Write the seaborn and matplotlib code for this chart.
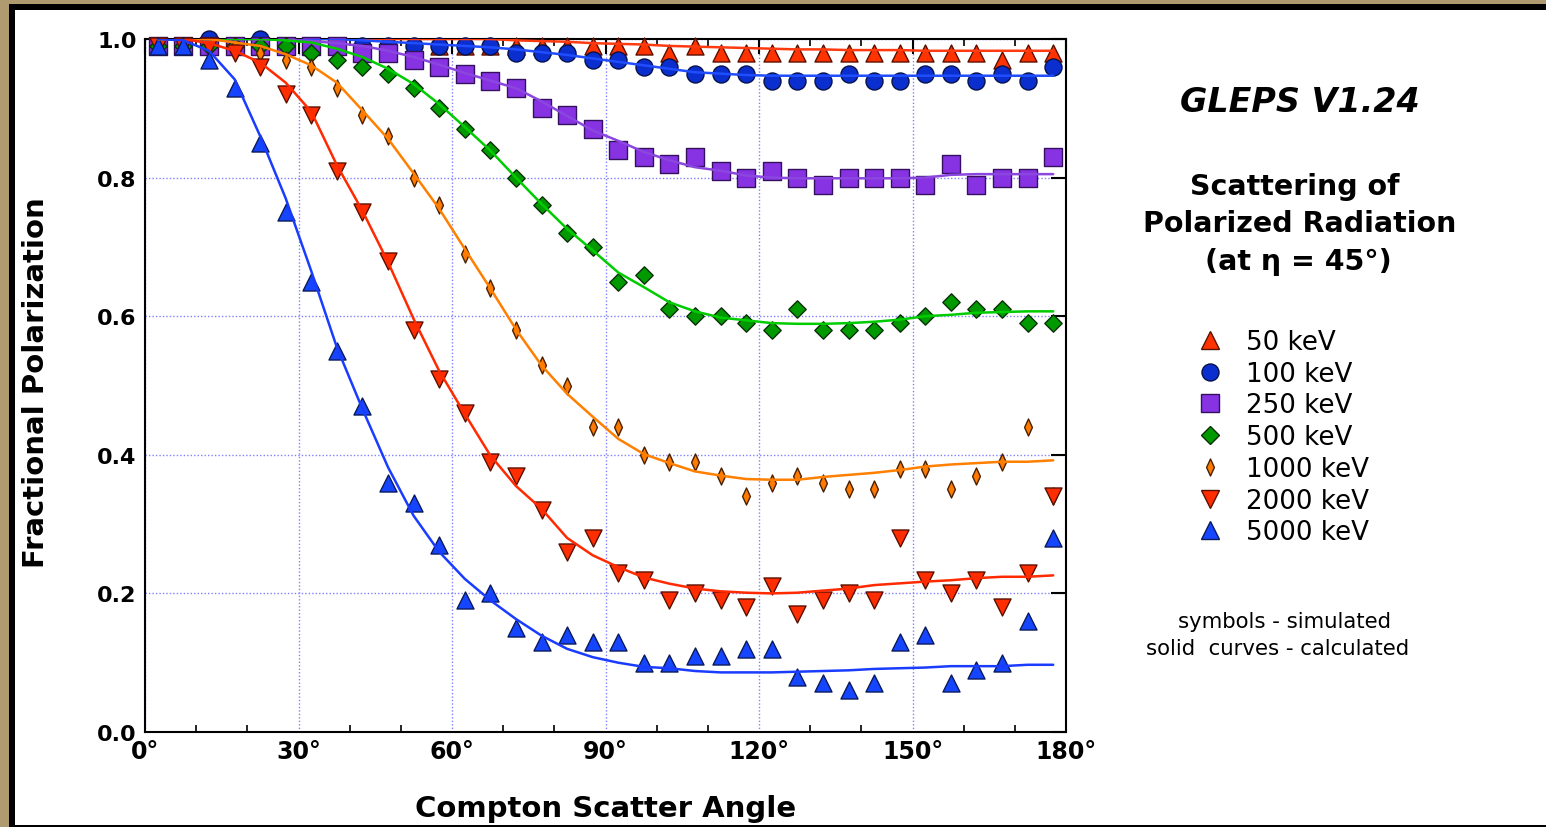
import matplotlib
matplotlib.use("Agg")
import matplotlib.pyplot as plt
from matplotlib.patches import Rectangle
from matplotlib.lines import Line2D
from matplotlib.path import Path
from matplotlib.markers import MarkerStyle
import seaborn as sns

# ---------------- data ----------------
angles = [2.5, 7.5, 12.5, 17.5, 22.5, 27.5, 32.5, 37.5, 42.5, 47.5, 52.5, 57.5,
          62.5, 67.5, 72.5, 77.5, 82.5, 87.5, 92.5, 97.5, 102.5, 107.5, 112.5, 117.5,
          122.5, 127.5, 132.5, 137.5, 142.5, 147.5, 152.5, 157.5, 162.5, 167.5, 172.5, 177.5]

energies = ["50 keV", "100 keV", "250 keV", "500 keV", "1000 keV", "2000 keV", "5000 keV"]

# simulated (symbols)
sim_50 = [0.99, 0.99, 0.99, 0.99, 0.99, 0.99, 0.99, 0.99, 0.99, 0.99, 0.99, 0.99, 0.99, 0.99,
          0.99, 0.99, 0.99, 0.99, 0.99, 0.99, 0.98, 0.99, 0.98, 0.98, 0.98, 0.98,
          0.98, 0.98, 0.98, 0.98, 0.98, 0.98, 0.98, 0.97, 0.98, 0.98]
sim_100 = [0.99, 0.99, 1.0, 0.99, 1.0, 0.99, 0.99, 0.99, 0.99, 0.99, 0.99, 0.99,
           0.99, 0.99, 0.98, 0.98, 0.98, 0.97, 0.97, 0.96, 0.96, 0.95, 0.95, 0.95,
           0.94, 0.94, 0.94, 0.95, 0.94, 0.94, 0.95, 0.95, 0.94, 0.95, 0.94, 0.96]
sim_250 = [0.99, 0.99, 0.99, 0.99, 0.99, 0.99, 0.99, 0.99, 0.98, 0.98, 0.97, 0.96,
           0.95, 0.94, 0.93, 0.90, 0.89, 0.87, 0.84, 0.83, 0.82, 0.83, 0.81, 0.80,
           0.81, 0.80, 0.79, 0.80, 0.80, 0.80, 0.79, 0.82, 0.79, 0.80, 0.80, 0.83]
sim_500 = [0.99, 0.99, 0.99, 0.99, 0.99, 0.99, 0.98, 0.97, 0.96, 0.95, 0.93, 0.90,
           0.87, 0.84, 0.80, 0.76, 0.72, 0.70, 0.65, 0.66, 0.61, 0.60, 0.60, 0.59,
           0.58, 0.61, 0.58, 0.58, 0.58, 0.59, 0.60, 0.62, 0.61, 0.61, 0.59, 0.59]
sim_1000 = [0.99, 0.99, 0.99, 0.99, 0.98, 0.97, 0.96, 0.93, 0.89, 0.86, 0.80, 0.76,
            0.69, 0.64, 0.58, 0.53, 0.50, 0.44, 0.44, 0.40, 0.39, 0.39, 0.37, 0.34,
            0.36, 0.37, 0.36, 0.35, 0.35, 0.38, 0.38, 0.35, 0.37, 0.39, 0.44, 0.34]
sim_2000 = [0.99, 0.99, 0.99, 0.98, 0.96, 0.92, 0.89, 0.81, 0.75, 0.68, 0.58, 0.51,
            0.46, 0.39, 0.37, 0.32, 0.26, 0.28, 0.23, 0.22, 0.19, 0.20, 0.19, 0.18,
            0.21, 0.17, 0.19, 0.20, 0.19, 0.28, 0.22, 0.20, 0.22, 0.18, 0.23, 0.34]
sim_5000 = [0.99, 0.99, 0.97, 0.93, 0.85, 0.75, 0.65, 0.55, 0.47, 0.36, 0.33, 0.27,
            0.19, 0.20, 0.15, 0.13, 0.14, 0.13, 0.13, 0.10, 0.10, 0.11, 0.11, 0.12,
            0.12, 0.08, 0.07, 0.06, 0.07, 0.13, 0.14, 0.07, 0.09, 0.10, 0.16, 0.28]

# calculated (solid curves)
calc_50 = [1.0, 1.0, 1.0, 1.0, 1.0, 1.0, 1.0, 1.0, 1.0, 1.0, 1.0, 1.0, 1.0, 1.0,
           0.998, 0.997, 0.996, 0.994, 0.993, 0.992, 0.99, 0.989, 0.988, 0.987,
           0.986, 0.985, 0.985, 0.984, 0.984, 0.984, 0.983, 0.983, 0.983, 0.983,
           0.983, 0.983]
calc_100 = [1.0, 1.0, 1.0, 1.0, 1.0, 1.0, 1.0, 1.0, 0.998, 0.996, 0.994, 0.992,
            0.99, 0.988, 0.985, 0.981, 0.977, 0.972, 0.967, 0.962, 0.957, 0.952,
            0.95, 0.948, 0.947, 0.947, 0.947, 0.947, 0.947, 0.947, 0.947, 0.947,
            0.947, 0.947, 0.947, 0.947]
calc_250 = [1.0, 1.0, 1.0, 1.0, 1.0, 0.999, 0.997, 0.994, 0.99, 0.983, 0.974, 0.963,
            0.951, 0.94, 0.929, 0.91, 0.889, 0.868, 0.853, 0.837, 0.825, 0.815,
            0.81, 0.803, 0.80, 0.799, 0.799, 0.799, 0.799, 0.799, 0.80, 0.804,
            0.805, 0.805, 0.805, 0.805]
calc_500 = [1.0, 1.0, 1.0, 1.0, 1.0, 0.998, 0.995, 0.986, 0.974, 0.957, 0.935, 0.906,
            0.873, 0.839, 0.80, 0.762, 0.726, 0.695, 0.663, 0.642, 0.62, 0.607,
            0.598, 0.594, 0.59, 0.589, 0.589, 0.59, 0.592, 0.595, 0.60, 0.602,
            0.605, 0.606, 0.607, 0.607]
calc_1000 = [1.0, 1.0, 1.0, 0.995, 0.99, 0.978, 0.962, 0.937, 0.897, 0.856, 0.806,
             0.755, 0.697, 0.64, 0.581, 0.529, 0.488, 0.455, 0.423, 0.401, 0.388,
             0.376, 0.37, 0.365, 0.364, 0.364, 0.368, 0.371, 0.374, 0.378, 0.383,
             0.386, 0.388, 0.39, 0.39, 0.392]
calc_2000 = [1.0, 1.0, 0.994, 0.983, 0.966, 0.937, 0.895, 0.818, 0.752, 0.678, 0.596,
             0.521, 0.459, 0.399, 0.355, 0.322, 0.28, 0.255, 0.238, 0.223, 0.214,
             0.207, 0.203, 0.201, 0.20, 0.201, 0.204, 0.207, 0.212, 0.2145, 0.217,
             0.219, 0.222, 0.224, 0.224, 0.226]
calc_5000 = [1.0, 0.998, 0.983, 0.942, 0.86, 0.77, 0.665, 0.555, 0.466, 0.382, 0.312,
             0.26, 0.221, 0.19, 0.163, 0.139, 0.12, 0.108, 0.10, 0.094, 0.092, 0.088,
             0.086, 0.086, 0.086, 0.087, 0.088, 0.089, 0.091, 0.092, 0.093, 0.095,
             0.095, 0.095, 0.097, 0.097]

x_ticks = [0, 30, 60, 90, 120, 150, 180]
x_tick_labels = ["0°", "30°", "60°", "90°", "120°", "150°", "180°"]
y_ticks = [0.0, 0.2, 0.4, 0.6, 0.8, 1.0]
y_tick_labels = ["0.0", "0.2", "0.4", "0.6", "0.8", "1.0"]

# ---------------- style ----------------
thin_diamond = MarkerStyle(Path([(0, 1), (0.46, 0), (0, -1), (-0.46, 0), (0, 1)],
                                [Path.MOVETO, Path.LINETO, Path.LINETO, Path.LINETO, Path.CLOSEPOLY]))
styles = {
    "50 keV":   dict(marker="^", s=150, fill="#ff3300", edge="#5a1000", line="#ff3a10"),
    "100 keV":  dict(marker="o", s=150, fill="#0b2ecf", edge="#06124a", line="#1f4dff"),
    "250 keV":  dict(marker="s", s=150, fill="#8733e3", edge="#35105e", line="#8c46e0"),
    "500 keV":  dict(marker="D", s=78, fill="#009a00", edge="#083008", line="#00cc00"),
    "1000 keV": dict(marker=thin_diamond, s=150, fill="#ff7a00", edge="#4a2000", line="#ff7f00"),
    "2000 keV": dict(marker="v", s=150, fill="#ff2d00", edge="#5a1000", line="#ff2a00"),
    "5000 keV": dict(marker="^", s=150, fill="#1545ff", edge="#0a1a5a", line="#1a3cff"),
}
sim = dict(zip(energies, [sim_50, sim_100, sim_250, sim_500, sim_1000, sim_2000, sim_5000]))
calc = dict(zip(energies, [calc_50, calc_100, calc_250, calc_500, calc_1000, calc_2000, calc_5000]))

sns.set_style("white")
plt.rcParams["font.family"] = ["DejaVu Sans"]
plt.rcParams["text.color"] = "black"
plt.rcParams["axes.labelcolor"] = "black"
plt.rcParams["xtick.color"] = "black"
plt.rcParams["ytick.color"] = "black"

W, H = 1546, 828
fig = plt.figure(figsize=(W / 100, H / 100), dpi=100, facecolor="#b09a70")
fig.patches.append(Rectangle((9 / W, 0), 1, (H - 5) / H, transform=fig.transFigure,
                             facecolor="black", edgecolor="none", zorder=-20))
fig.patches.append(Rectangle((15 / W, 2 / H), 1, (826 - 11) / H, transform=fig.transFigure,
                             facecolor="white", edgecolor="none", zorder=-10))

ax = fig.add_axes([145 / W, 1 - 733 / H, 921 / W, 693 / H])
ax.set_zorder(1)
ax.set_facecolor("white")

for e in energies:
    st = styles[e]
    sns.scatterplot(x=angles, y=sim[e], ax=ax, marker=st["marker"], s=st["s"],
                    color=st["fill"], edgecolor=st["edge"], linewidth=1.0,
                    zorder=3, clip_on=False, legend=False)
for e in energies:
    st = styles[e]
    sns.lineplot(x=angles, y=calc[e], ax=ax, color=st["line"], linewidth=1.8,
                 zorder=4, legend=False)

ax.set_xlim(0, 180)
ax.set_ylim(0, 1.0)
ax.set_xticks(x_ticks)
ax.set_xticklabels(x_tick_labels, fontsize=17, fontweight="bold")
ax.set_xticks(range(0, 181, 10), minor=True)
ax.set_yticks(y_ticks)
ax.set_yticklabels(y_tick_labels, fontsize=16, fontweight="bold")
ax.tick_params(which="major", direction="in", length=11, width=1.5, top=True, right=True,
               colors="black")
ax.tick_params(axis="x", which="major", pad=5)
ax.tick_params(axis="y", which="major", pad=6)
ax.tick_params(which="minor", direction="in", length=5, width=1.2, top=True, bottom=True)
ax.set_axisbelow(True)
ax.grid(True, which="major", color="#8080ff", linestyle=(0, (1, 1.5)), linewidth=1.0)
for sp in ax.spines.values():
    sp.set_visible(True)
    sp.set_color("black")
    sp.set_linewidth(1.5)

ax.set_xlabel("Compton Scatter Angle", fontsize=21, fontweight="bold")
ax.xaxis.set_label_coords(0.5005, -0.089)
ax.set_ylabel("Fractional Polarization", fontsize=21, fontweight="bold")
ax.yaxis.set_label_coords(-0.1035, 0.505)

# annotation text
fig.text(1300 / W, 1 - 102 / H, "GLEPS V1.24", fontsize=24, fontweight="bold",
         fontstyle="italic", ha="center", va="center")
fig.text(1295 / W, 1 - 187 / H, "Scattering of", fontsize=20.5, fontweight="bold",
         ha="center", va="center")
fig.text(1300 / W, 1 - 224 / H, "Polarized Radiation", fontsize=20.5, fontweight="bold",
         ha="center", va="center")
fig.text(1298 / W, 1 - 262 / H, "(at η = 45°)", fontsize=20.5, fontweight="bold",
         ha="center", va="center")
fig.text(1284 / W, 1 - 622 / H, "symbols - simulated", fontsize=15.3,
         ha="center", va="center")
fig.text(1278 / W, 1 - 649 / H, "solid  curves - calculated", fontsize=15.3,
         ha="center", va="center")

# legend
handles = []
for e in energies:
    st = styles[e]
    ms = st["s"] ** 0.5
    handles.append(Line2D([], [], linestyle="none", marker=st["marker"], markersize=ms,
                          markerfacecolor=st["fill"], markeredgecolor=st["edge"],
                          markeredgewidth=1.0))
fig.legend(handles, energies, loc="upper left",
           bbox_to_anchor=(1196.5 / W, 1 - 330 / H), bbox_transform=fig.transFigure,
           frameon=False, fontsize=18.8, borderpad=0, borderaxespad=0,
           handlelength=1.0, handletextpad=0.9, labelspacing=0.22)

fig.savefig("out.png", dpi=100, facecolor=fig.get_facecolor())
